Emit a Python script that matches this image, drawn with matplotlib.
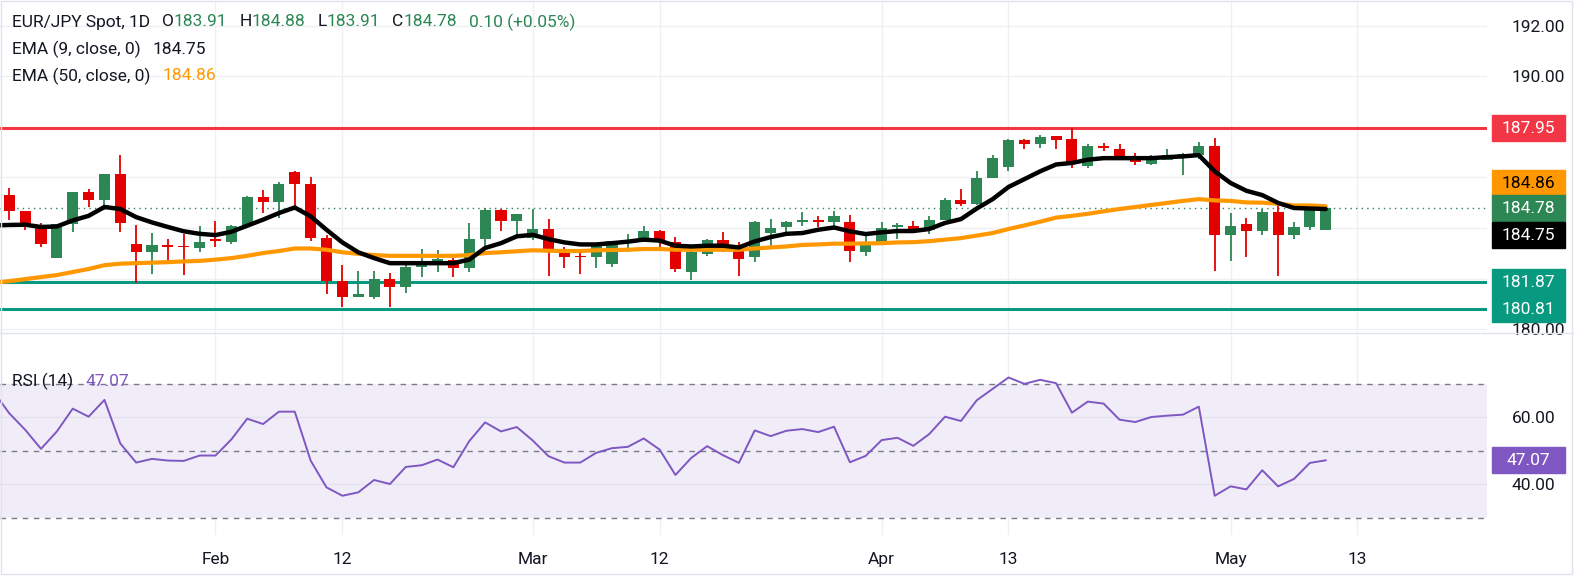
import matplotlib.pyplot as plt
from matplotlib.patches import Rectangle
from matplotlib.lines import Line2D
import numpy as np

plt.rcParams['font.family'] = ['Roboto', 'DejaVu Sans']

# daily candles, EUR/JPY (index 0 = first visible day)
opens = [185.31, 184.68, 184.09, 182.80, 184.14, 185.43, 185.09, 186.15, 183.38, 183.07,
         183.34, 183.27, 183.19, 183.58, 183.43, 184.06, 185.22, 185.01, 186.22, 185.75,
         183.62, 181.90, 181.26, 181.26, 181.98, 181.65, 182.44, 182.52, 182.75, 182.40,
         183.55, 184.72, 184.26, 183.60, 183.97, 183.18, 182.88, 182.84, 182.56, 183.47,
         183.50, 183.89, 183.46, 182.28, 182.99, 183.54, 183.11, 182.84, 183.79, 184.03,
         184.22, 184.33, 184.22, 184.25, 183.07, 183.35, 184.02, 184.09, 183.94, 184.30,
         185.12, 184.93, 185.96, 186.40, 187.49, 187.30, 187.65, 187.53, 186.43, 187.25,
         187.13, 186.70, 186.51, 186.67, 186.87, 186.87, 187.25, 183.71, 184.17, 183.87,
         184.64, 183.71, 184.03, 183.91]
highs = [185.59, 184.68, 184.21, 184.17, 185.43, 185.55, 186.15, 186.90, 184.13, 183.81,
         183.58, 183.77, 184.09, 184.29, 184.13, 185.28, 185.51, 185.80, 186.26, 186.03,
         183.73, 182.55, 182.31, 182.31, 182.21, 182.55, 183.18, 183.14, 182.83, 184.21,
         184.79, 184.75, 184.56, 184.75, 184.37, 183.26, 183.09, 183.34, 183.50, 183.77,
         184.09, 183.93, 183.65, 183.22, 183.58, 183.85, 183.46, 184.29, 184.37, 184.29,
         184.64, 184.48, 184.68, 184.52, 183.67, 184.25, 184.21, 184.29, 184.48, 185.20,
         185.55, 186.26, 186.90, 187.53, 187.53, 187.69, 187.65, 187.95, 187.30, 187.37,
         187.33, 186.98, 186.90, 187.13, 186.98, 187.41, 187.57, 184.60, 184.41, 184.76,
         185.08, 184.25, 184.76, 184.88]
lows = [184.33, 183.91, 183.23, 182.80, 183.83, 184.84, 184.72, 183.83, 181.82, 182.17,
        182.60, 182.13, 183.07, 183.23, 183.38, 184.06, 184.58, 184.39, 184.84, 183.47,
        181.38, 180.88, 181.26, 181.20, 180.88, 181.45, 182.05, 182.25, 182.05, 182.25,
        183.23, 183.87, 183.71, 183.51, 182.09, 182.40, 182.17, 182.40, 182.44, 183.07,
        183.46, 183.26, 182.28, 181.93, 182.88, 183.04, 182.09, 182.64, 183.23, 183.67,
        184.06, 184.03, 183.91, 182.64, 182.88, 183.35, 183.55, 183.79, 183.75, 184.30,
        184.85, 184.89, 185.96, 186.24, 187.11, 187.15, 187.11, 186.36, 186.36, 187.03,
        186.67, 186.47, 186.47, 186.67, 186.08, 186.71, 182.32, 182.68, 182.84, 183.71,
        182.09, 183.55, 183.94, 183.91]
closes = [184.66, 184.09, 183.35, 184.17, 185.43, 185.09, 186.15, 184.18, 183.07, 183.34,
          183.23, 183.23, 183.46, 183.47, 184.09, 185.22, 185.01, 185.75, 185.72, 183.59,
          181.89, 181.26, 181.40, 181.98, 181.65, 182.47, 182.55, 182.79, 182.40, 183.58,
          184.72, 184.26, 184.56, 183.97, 183.15, 182.84, 182.84, 183.30, 183.50, 183.54,
          183.89, 183.43, 182.36, 183.06, 183.54, 183.11, 182.76, 184.25, 184.01, 184.25,
          184.33, 184.22, 184.48, 183.11, 183.38, 184.01, 184.13, 183.83, 184.33, 185.12,
          184.93, 185.99, 186.78, 187.49, 187.30, 187.61, 187.46, 186.59, 187.25, 187.15,
          186.67, 186.59, 186.83, 186.90, 186.94, 187.25, 183.71, 184.09, 183.87, 184.64,
          183.71, 184.05, 184.72, 184.78]

# indicator lines, starting one day before the first visible candle
ema9 = [184.10,
        184.12, 184.13, 184.04, 184.06, 184.30, 184.48, 184.83, 184.75, 184.43, 184.22,
        184.04, 183.87, 183.77, 183.72, 183.85, 184.09, 184.33, 184.59, 184.81, 184.46,
        183.93, 183.43, 183.04, 182.81, 182.61, 182.61, 182.61, 182.61, 182.61, 182.75,
        183.21, 183.40, 183.67, 183.73, 183.56, 183.43, 183.35, 183.35, 183.40, 183.46,
        183.54, 183.50, 183.30, 183.27, 183.30, 183.30, 183.23, 183.47, 183.64, 183.77,
        183.80, 183.93, 184.02, 183.87, 183.76, 183.83, 183.88, 183.88, 183.96, 184.20,
        184.35, 184.77, 185.14, 185.62, 185.93, 186.24, 186.51, 186.57, 186.70, 186.76,
        186.76, 186.76, 186.76, 186.80, 186.83, 186.88, 186.24, 185.78, 185.47, 185.30,
        184.99, 184.79, 184.77, 184.75]
ema50 = [181.84,
         181.90, 181.98, 182.06, 182.14, 182.26, 182.38, 182.53, 182.59, 182.61, 182.63,
         182.65, 182.68, 182.70, 182.75, 182.81, 182.90, 183.01, 183.09, 183.19, 183.19,
         183.14, 183.04, 182.98, 182.93, 182.90, 182.90, 182.90, 182.90, 182.90, 182.93,
         183.01, 183.04, 183.08, 183.12, 183.10, 183.09, 183.09, 183.12, 183.13, 183.14,
         183.17, 183.17, 183.14, 183.14, 183.14, 183.14, 183.14, 183.19, 183.23, 183.27,
         183.33, 183.35, 183.38, 183.38, 183.39, 183.40, 183.43, 183.44, 183.48, 183.54,
         183.60, 183.70, 183.80, 183.96, 184.10, 184.25, 184.41, 184.48, 184.56, 184.66,
         184.75, 184.83, 184.91, 184.99, 185.07, 185.14, 185.09, 185.07, 185.01, 185.00,
         184.96, 184.89, 184.89, 184.86]
rsi = [67.6,
       61.1, 56.2, 50.5, 55.7, 62.5, 60.1, 65.1, 52.1, 46.4, 47.5,
       47.0, 46.9, 48.5, 48.5, 53.3, 59.5, 57.9, 61.6, 61.6, 47.0,
       39.0, 36.5, 37.5, 41.2, 40.0, 45.1, 45.6, 47.3, 45.0, 52.8,
       58.4, 55.7, 57.0, 53.0, 48.3, 46.4, 46.4, 49.3, 50.7, 51.1,
       53.6, 50.3, 42.7, 47.8, 51.3, 48.6, 46.3, 56.0, 54.3, 55.9,
       56.4, 55.5, 57.1, 46.5, 48.4, 53.1, 53.8, 51.4, 54.9, 60.1,
       58.8, 65.0, 68.4, 71.8, 69.9, 71.1, 70.1, 61.3, 64.6, 64.0,
       59.2, 58.5, 60.0, 60.4, 60.7, 63.1, 36.5, 39.3, 38.4, 44.1,
       39.3, 41.5, 46.3, 47.07]

date_pos = [13, 21, 33, 41, 55, 63, 77, 85]
date_labels = ['Feb', '12', 'Mar', '12', 'Apr', '13', 'May', '13']

resistance = 187.95
supports = [181.87, 180.81]
last_close = 184.78
ema9_last = 184.75
ema50_last = 184.86
rsi_last = 47.07

price_ticks = [180, 190, 192]
price_grid = [180, 182, 184, 186, 188, 190, 192]
rsi_levels = [70, 50, 30]
rsi_ticks = [40, 60]

GREEN = '#2C8754'
RED = '#E50000'
TEAL = '#089981'
ORANGE = '#FF9800'
PURPLE = '#7E57C2'
DARK = '#131722'
GRID = '#EEF0F4'
FS = 12.5

W, H = 1574, 578
fig = plt.figure(figsize=(W / 100, H / 100), dpi=100)
ax = fig.add_axes([0, 246 / H, 1487 / W, 331 / H])
ax2 = fig.add_axes([0, 43 / H, 1487 / W, 201 / H], sharex=ax)

# ---- price pane
x = np.arange(len(closes))
o = np.array(opens)
c = np.array(closes)
cols = np.where(c >= o, GREEN, RED)
ax.vlines(x, lows, highs, colors=cols, lw=1.3, zorder=3)
ax.bar(x, np.maximum(np.abs(c - o), 0.04), bottom=np.minimum(o, c), width=0.7,
       color=cols, linewidth=0, zorder=4)

xl = np.arange(-1, len(closes))
ax.plot(xl, ema50, color=ORANGE, lw=3, zorder=5, solid_capstyle='round')
ax.plot(xl, ema9, color='black', lw=3.2, zorder=6, solid_capstyle='round')

ax.axhline(resistance, color='#F23645', lw=2.2, zorder=2)
for s in supports:
    ax.axhline(s, color=TEAL, lw=2.2, zorder=2)
ax.axhline(last_close, color=GREEN, lw=1, ls=(0, (1, 3)), zorder=2)

for g in price_grid:
    ax.axhline(g, color=GRID, lw=1, zorder=0)

ax.set_xlim(-0.586, 93.17)
ax.set_ylim(179.89, 192.97)

# ---- RSI pane
ax2.axhspan(rsi_levels[2], rsi_levels[0], color=PURPLE, alpha=0.1, lw=0, zorder=0)
for g in rsi_ticks:
    ax2.axhline(g, color='#E4E0EE', lw=1, zorder=1)
for lv in rsi_levels:
    ax2.axhline(lv, color='#787B86', lw=1, ls=(0, (4, 4)), zorder=2)
ax2.plot(xl, rsi, color=PURPLE, lw=1.4, zorder=3)
ax2.set_ylim(24.78, 84.78)

for a in (ax, ax2):
    for p in date_pos:
        a.axvline(p, color=GRID, lw=1, zorder=0)
    for sp in a.spines.values():
        sp.set_visible(False)
    a.yaxis.tick_right()
    a.tick_params(length=0, labelsize=FS, colors=DARK, pad=18)

ax.set_yticks(price_ticks)
ax.set_yticklabels(['%.2f' % v for v in price_ticks])
ax2.set_yticks(rsi_ticks)
ax2.set_yticklabels(['%.2f' % v for v in rsi_ticks])
ax2.set_xticks(date_pos)
ax2.set_xticklabels(date_labels)
ax.tick_params(labelbottom=False)
ax2.tick_params(axis='x', pad=12)


# ---- price tags on the right scale
def tag(a, value, text, bg, fg, dy=0):
    y = a.transData.transform((0, value))[1] + dy
    fig.patches.append(Rectangle((1492 / W, (y - 13) / H), 73 / W, 26 / H,
                                 transform=fig.transFigure, color=bg, zorder=10))
    fig.text(1528 / W, (y - 0.5) / H, text, color=fg, ha='center', va='center',
             fontsize=FS, zorder=11)


tag(ax, resistance, '%.2f' % resistance, '#F23645', 'white')
tag(ax, last_close, '%.2f' % ema50_last, ORANGE, 'black', dy=25.6)
tag(ax, last_close, '%.2f' % last_close, GREEN, 'white')
tag(ax, last_close, '%.2f' % ema9_last, 'black', 'white', dy=-26.7)
tag(ax, supports[0], '%.2f' % supports[0], TEAL, 'white')
tag(ax, supports[1], '%.2f' % supports[1], TEAL, 'white')
tag(ax2, rsi_last, '%.2f' % rsi_last, PURPLE, 'white')


# ---- legend rows
def row(a, ypix, parts):
    prev = fig.text(12 / W, 1 - ypix / H, parts[0][0], color=parts[0][1],
                    fontsize=FS, ha='left', va='center', zorder=12)
    for s, col, gap in parts[1:]:
        prev = a.annotate(s, xy=(1, 0.5), xycoords=prev, xytext=(gap, 0),
                          textcoords='offset pixels', color=col, fontsize=FS,
                          ha='left', va='center', annotation_clip=False, zorder=12)


row(ax, 22, [('EUR/JPY Spot, 1D', DARK), ('O', DARK, 12), ('%.2f' % opens[-1], GREEN, 0),
             ('H', DARK, 12), ('%.2f' % highs[-1], GREEN, 0),
             ('L', DARK, 12), ('%.2f' % lows[-1], GREEN, 0),
             ('C', DARK, 12), ('%.2f' % closes[-1], GREEN, 0),
             ('0.10 (+0.05%)', GREEN, 12)])
row(ax, 49, [('EMA (9, close, 0)', DARK), ('%.2f' % ema9_last, DARK, 12)])
row(ax, 76, [('EMA (50, close, 0)', DARK), ('%.2f' % ema50_last, ORANGE, 12)])
row(ax2, 381, [('RSI (14)', DARK), ('%.2f' % rsi_last, PURPLE, 12)])

# pane separator and outer frame
fig.add_artist(Line2D([0, 1], [1 - 333 / H, 1 - 333 / H], color='#E0E3EB', lw=1))
fig.add_artist(Rectangle((0.5 / W, 4.5 / H), (W - 3) / W, (H - 5.5) / H,
                         transform=fig.transFigure, fill=False, ec='#E0E3EB', lw=1))

fig.savefig('out.png', dpi=100)
